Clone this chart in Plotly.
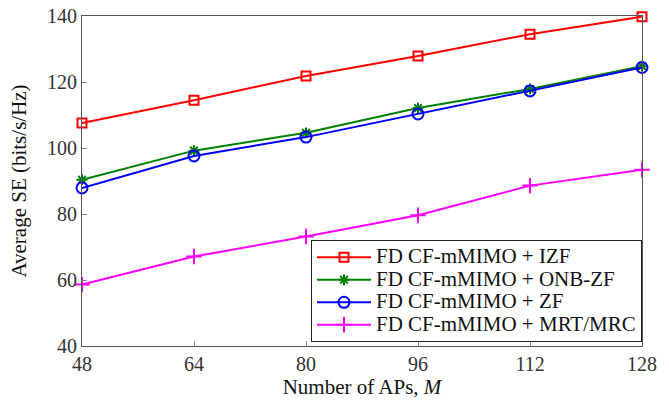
import plotly.graph_objects as go

x_aps = [48, 64, 80, 96, 112, 128]
se_izf = [107.6, 114.5, 121.8, 127.9, 134.5, 139.8]
se_onbzf = [90.4, 99.2, 104.6, 112.1, 117.9, 124.8]
se_zf = [87.9, 97.6, 103.3, 110.3, 117.3, 124.4]
se_mrt = [58.6, 67.1, 73.2, 79.6, 88.6, 93.4]
names = ["FD CF-mMIMO + IZF", "FD CF-mMIMO + ONB-ZF", "FD CF-mMIMO + ZF", "FD CF-mMIMO + MRT/MRC"]

styles = [
    dict(color="#ff0000", symbol="square-open", size=9),
    dict(color="#008000", symbol="asterisk-open", size=9),
    dict(color="#0000ff", symbol="circle-open", size=11),
    dict(color="#ff00ff", symbol="cross-thin-open", size=11),
]

fig = go.Figure()
for name, ys, st in zip(names, [se_izf, se_onbzf, se_zf, se_mrt], styles):
    fig.add_trace(go.Scatter(
        x=x_aps, y=ys, name="<span style='font-size:21px'>" + name + "</span>",
        mode="lines+markers", cliponaxis=False,
        line=dict(color=st["color"], width=2),
        marker=dict(symbol=st["symbol"], size=st["size"], color=st["color"],
                    line=dict(color=st["color"], width=2)),
    ))

font_family = "Liberation Serif, DejaVu Serif, serif"
fig.update_layout(
    width=669, height=401, autosize=False,
    margin=dict(l=82, r=27, t=16, b=55),
    paper_bgcolor="white", plot_bgcolor="white",
    font=dict(family=font_family, size=20, color="#333333"),
    showlegend=True,
    legend=dict(x=1, y=0.012, xanchor="right", yanchor="bottom",
                bordercolor="#222222", borderwidth=1, bgcolor="white",
                font=dict(size=15, family=font_family, color="#111111"),
                tracegroupgap=0, itemwidth=54),
    xaxis=dict(range=[48, 128], tickvals=x_aps, ticks="inside", ticklen=5,
               tickcolor="#888888", showline=True, linecolor="#555555", linewidth=1.2,
               mirror=True, showgrid=False, zeroline=False, automargin=False,
               tickfont=dict(size=20),
               title=dict(text="Number of APs, <i>M</i>", font=dict(size=21, color="#111111"), standoff=2)),
    yaxis=dict(range=[40, 140], tickvals=[40, 60, 80, 100, 120, 140], ticks="inside", ticklen=5,
               tickcolor="#888888", showline=True, linecolor="#555555", linewidth=1.2,
               mirror=True, showgrid=False, zeroline=False, automargin=False,
               tickfont=dict(size=20),
               title=dict(text="Average SE (bits/s/Hz)", font=dict(size=21, color="#111111"), standoff=14)),
)

fig.write_html("out.html", config={"displayModeBar": False},
               post_script="document.body.style.margin='0';")
